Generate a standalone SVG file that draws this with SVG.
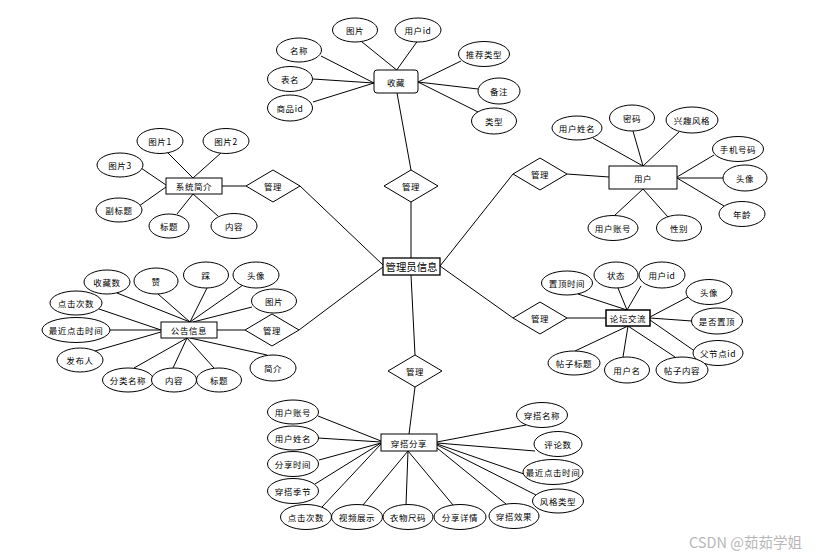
<svg xmlns="http://www.w3.org/2000/svg" width="817" height="559" viewBox="0 0 817 559">
<style>
.c line{stroke:#000;stroke-width:1}
ellipse,rect,polygon{fill:#fff;stroke:#000;stroke-width:1}
text{font-family:"Noto Sans CJK SC","Liberation Sans",sans-serif;font-size:8.5px;fill:#000;text-anchor:middle;dominant-baseline:central;letter-spacing:0.6px}
.big{font-size:10.4px;letter-spacing:0}
.wm{font-size:14.5px;fill:#b8b8b8;text-anchor:start;letter-spacing:0}
</style>
<rect x="0" y="0" width="817" height="559" style="fill:#fff;stroke:none"/>
<g class="c" id="connectors">
<line x1="361.7" y1="41.7" x2="396.7" y2="70"/>
<line x1="417" y1="41.7" x2="396.7" y2="70"/>
<line x1="321" y1="56" x2="374" y2="83"/>
<line x1="313" y1="79" x2="374" y2="83"/>
<line x1="313" y1="102" x2="374" y2="83"/>
<line x1="461" y1="61" x2="418" y2="82"/>
<line x1="478" y1="89" x2="418" y2="82"/>
<line x1="478" y1="112" x2="418" y2="82"/>
<line x1="397" y1="93" x2="411" y2="170"/>
<line x1="411" y1="202" x2="411" y2="258"/>
<line x1="167" y1="152" x2="193" y2="178"/>
<line x1="222" y1="152" x2="193" y2="178"/>
<line x1="141" y1="168" x2="166" y2="185"/>
<line x1="139" y1="206" x2="166" y2="187"/>
<line x1="177" y1="214" x2="193" y2="194"/>
<line x1="218" y1="216" x2="193" y2="194"/>
<line x1="222" y1="186" x2="246" y2="186"/>
<line x1="300" y1="186" x2="383" y2="265"/>
<line x1="593" y1="138" x2="643" y2="166"/>
<line x1="633" y1="131" x2="643" y2="166"/>
<line x1="679" y1="132" x2="643" y2="166"/>
<line x1="714" y1="155" x2="677" y2="177"/>
<line x1="723" y1="178" x2="677" y2="178"/>
<line x1="724" y1="206" x2="677" y2="178"/>
<line x1="614" y1="216" x2="643" y2="189"/>
<line x1="668" y1="217" x2="643" y2="189"/>
<line x1="567" y1="174" x2="609" y2="177"/>
<line x1="513" y1="174" x2="440" y2="266"/>
<line x1="117" y1="293" x2="190" y2="322"/>
<line x1="158" y1="294" x2="190" y2="322"/>
<line x1="207" y1="288" x2="190" y2="322"/>
<line x1="243" y1="285" x2="190" y2="322"/>
<line x1="252" y1="307" x2="193" y2="322"/>
<line x1="99" y1="309" x2="161" y2="330"/>
<line x1="110" y1="330" x2="161" y2="330"/>
<line x1="95" y1="351" x2="161" y2="332"/>
<line x1="134" y1="368" x2="187" y2="338"/>
<line x1="173" y1="368" x2="187" y2="338"/>
<line x1="214" y1="368" x2="187" y2="338"/>
<line x1="267" y1="355" x2="190" y2="338"/>
<line x1="217" y1="330" x2="245" y2="330"/>
<line x1="299" y1="330" x2="383" y2="267"/>
<line x1="578" y1="294" x2="627" y2="310"/>
<line x1="618" y1="288" x2="627" y2="310"/>
<line x1="641" y1="286" x2="627" y2="310"/>
<line x1="688" y1="297" x2="650" y2="317"/>
<line x1="692" y1="321" x2="650" y2="318"/>
<line x1="696" y1="352" x2="650" y2="320"/>
<line x1="675" y1="357" x2="628" y2="326"/>
<line x1="623" y1="357" x2="628" y2="326"/>
<line x1="575" y1="351" x2="628" y2="326"/>
<line x1="567" y1="318" x2="606" y2="318"/>
<line x1="513" y1="318" x2="440" y2="266"/>
<line x1="411" y1="275" x2="415" y2="355"/>
<line x1="415" y1="387" x2="409" y2="434"/>
<line x1="318" y1="416" x2="381" y2="441"/>
<line x1="318" y1="438" x2="381" y2="442"/>
<line x1="319" y1="460" x2="381" y2="443"/>
<line x1="315" y1="484" x2="381" y2="443"/>
<line x1="322" y1="507" x2="381" y2="444"/>
<line x1="363" y1="505" x2="408" y2="451"/>
<line x1="406" y1="505" x2="408" y2="451"/>
<line x1="453" y1="505" x2="408" y2="451"/>
<line x1="506" y1="504" x2="437" y2="448"/>
<line x1="536" y1="495" x2="437" y2="445"/>
<line x1="524" y1="474" x2="437" y2="444"/>
<line x1="535" y1="451" x2="437" y2="443"/>
<line x1="526" y1="425" x2="437" y2="442"/>
</g>
<g id="admin"><rect x="383" y="258" width="57" height="17" style="stroke-width:1.3"/><text class="big" x="411.5" y="266.5">管理员信息</text></g>
<g id="fav"><rect x="374" y="70" width="44" height="23" rx="3"/><text x="396" y="81.5">收藏</text></g>
<g id="fav-img"><ellipse cx="355" cy="30" rx="22.5" ry="12"/><text x="355" y="30">图片</text></g>
<g id="fav-uid"><ellipse cx="418" cy="30" rx="23" ry="12"/><text x="418" y="30">用户id</text></g>
<g id="fav-name"><ellipse cx="299" cy="50" rx="22.5" ry="12"/><text x="299" y="50">名称</text></g>
<g id="fav-table"><ellipse cx="290" cy="79" rx="22.5" ry="12.5"/><text x="290" y="79">表名</text></g>
<g id="fav-gid"><ellipse cx="290" cy="108" rx="22.5" ry="13"/><text x="290" y="108">商品id</text></g>
<g id="fav-rec"><ellipse cx="484" cy="54" rx="25.5" ry="12.5"/><text x="484" y="54">推荐类型</text></g>
<g id="fav-note"><ellipse cx="499" cy="91" rx="21" ry="13"/><text x="499" y="91">备注</text></g>
<g id="fav-type"><ellipse cx="494" cy="121" rx="22.5" ry="13"/><text x="494" y="121">类型</text></g>
<g id="d-fav"><polygon points="411,170 438,186 411,202 384,186"/><text x="411" y="186">管理</text></g>
<g id="sys"><rect x="166" y="178" width="56" height="16"/><text x="194" y="186">系统简介</text></g>
<g id="sys-p1"><ellipse cx="160" cy="141" rx="23" ry="12.5"/><text x="160" y="141">图片1</text></g>
<g id="sys-p2"><ellipse cx="226" cy="141" rx="23" ry="12.5"/><text x="226" y="141">图片2</text></g>
<g id="sys-p3"><ellipse cx="120" cy="165" rx="23" ry="12"/><text x="120" y="165">图片3</text></g>
<g id="sys-sub"><ellipse cx="119" cy="210" rx="23" ry="12"/><text x="119" y="210">副标题</text></g>
<g id="sys-title"><ellipse cx="169" cy="226" rx="20" ry="12"/><text x="169" y="226">标题</text></g>
<g id="sys-content"><ellipse cx="234" cy="226" rx="23" ry="12.5"/><text x="234" y="226">内容</text></g>
<g id="d-sys"><polygon points="273,170 300,186 273,202 246,186"/><text x="273" y="186">管理</text></g>
<g id="user"><rect x="609" y="166" width="68" height="23"/><text x="643" y="177.5">用户</text></g>
<g id="u-name"><ellipse cx="577" cy="128" rx="25" ry="12"/><text x="577" y="128">用户姓名</text></g>
<g id="u-pwd"><ellipse cx="632" cy="118" rx="22.5" ry="13"/><text x="632" y="118">密码</text></g>
<g id="u-style"><ellipse cx="692" cy="120" rx="26" ry="13"/><text x="692" y="120">兴趣风格</text></g>
<g id="u-phone"><ellipse cx="738" cy="149" rx="25.5" ry="12.5"/><text x="738" y="149">手机号码</text></g>
<g id="u-avatar"><ellipse cx="745" cy="178" rx="22" ry="13"/><text x="745" y="178">头像</text></g>
<g id="u-age"><ellipse cx="742" cy="214" rx="23" ry="12.5"/><text x="742" y="214">年龄</text></g>
<g id="u-acc"><ellipse cx="613" cy="228" rx="25" ry="12.5"/><text x="613" y="228">用户账号</text></g>
<g id="u-sex"><ellipse cx="679" cy="228" rx="22.5" ry="13"/><text x="679" y="228">性别</text></g>
<g id="d-user"><polygon points="540,158 567,174 540,190 513,174"/><text x="540" y="174">管理</text></g>
<g id="notice"><rect x="161" y="322" width="56" height="16"/><text x="189" y="330">公告信息</text></g>
<g id="n-fav"><ellipse cx="107" cy="282" rx="23" ry="12"/><text x="107" y="282">收藏数</text></g>
<g id="n-like"><ellipse cx="156" cy="281" rx="22" ry="13"/><text x="156" y="281">赞</text></g>
<g id="n-dislike"><ellipse cx="206" cy="275" rx="22.5" ry="13"/><text x="206" y="275">踩</text></g>
<g id="n-avatar"><ellipse cx="256" cy="275" rx="23" ry="13"/><text x="256" y="275">头像</text></g>
<g id="n-img"><ellipse cx="274" cy="301" rx="22.5" ry="12"/><text x="274" y="301">图片</text></g>
<g id="n-clicks"><ellipse cx="76" cy="303" rx="26" ry="12"/><text x="76" y="303">点击次数</text></g>
<g id="n-last"><ellipse cx="76" cy="330" rx="34" ry="12.5"/><text x="76" y="330">最近点击时间</text></g>
<g id="n-pub"><ellipse cx="80" cy="360" rx="23" ry="12"/><text x="80" y="360">发布人</text></g>
<g id="n-cat"><ellipse cx="128" cy="380" rx="25.5" ry="12"/><text x="128" y="380">分类名称</text></g>
<g id="n-content"><ellipse cx="174" cy="380" rx="22.5" ry="12"/><text x="174" y="380">内容</text></g>
<g id="n-title"><ellipse cx="219" cy="380" rx="22.5" ry="12"/><text x="219" y="380">标题</text></g>
<g id="n-intro"><ellipse cx="273" cy="368" rx="23" ry="13"/><text x="273" y="368">简介</text></g>
<g id="d-notice"><polygon points="272,314 299,330 272,346 245,330"/><text x="272" y="330">管理</text></g>
<g id="forum"><rect x="606" y="310" width="44" height="16" style="stroke-width:1.5"/><text x="628" y="318">论坛交流</text></g>
<g id="f-top"><ellipse cx="567" cy="283" rx="25.5" ry="12"/><text x="567" y="283">置顶时间</text></g>
<g id="f-state"><ellipse cx="616" cy="275" rx="22" ry="13"/><text x="616" y="275">状态</text></g>
<g id="f-uid"><ellipse cx="662" cy="275" rx="23" ry="13"/><text x="662" y="275">用户id</text></g>
<g id="f-avatar"><ellipse cx="709" cy="292" rx="23" ry="12.5"/><text x="709" y="292">头像</text></g>
<g id="f-istop"><ellipse cx="717" cy="321" rx="25.5" ry="13"/><text x="717" y="321">是否置顶</text></g>
<g id="f-parent"><ellipse cx="718" cy="353" rx="25" ry="12.5"/><text x="718" y="353">父节点id</text></g>
<g id="f-content"><ellipse cx="682" cy="370" rx="26" ry="13"/><text x="682" y="370">帖子内容</text></g>
<g id="f-user"><ellipse cx="627" cy="370" rx="22.5" ry="13"/><text x="627" y="370">用户名</text></g>
<g id="f-title"><ellipse cx="574" cy="363" rx="26" ry="12"/><text x="574" y="363">帖子标题</text></g>
<g id="d-forum"><polygon points="540,302 567,318 540,334 513,318"/><text x="540" y="318">管理</text></g>
<g id="d-share"><polygon points="415,355 442,371 415,387 388,371"/><text x="415" y="371">管理</text></g>
<g id="share"><rect x="381" y="434" width="56" height="17"/><text x="409" y="442.5">穿搭分享</text></g>
<g id="s-acc"><ellipse cx="293" cy="412" rx="25.5" ry="12"/><text x="293" y="412">用户账号</text></g>
<g id="s-name"><ellipse cx="293" cy="438" rx="25.5" ry="12"/><text x="293" y="438">用户姓名</text></g>
<g id="s-time"><ellipse cx="293" cy="464" rx="25.5" ry="12.5"/><text x="293" y="464">分享时间</text></g>
<g id="s-season"><ellipse cx="293" cy="491" rx="25.5" ry="12.5"/><text x="293" y="491">穿搭季节</text></g>
<g id="s-clicks"><ellipse cx="306" cy="517" rx="25.5" ry="12.5"/><text x="306" y="517">点击次数</text></g>
<g id="s-video"><ellipse cx="357" cy="517" rx="25.5" ry="12.5"/><text x="357" y="517">视频展示</text></g>
<g id="s-size"><ellipse cx="408" cy="517" rx="25" ry="12.5"/><text x="408" y="517">衣物尺码</text></g>
<g id="s-detail"><ellipse cx="460" cy="517" rx="26" ry="12.5"/><text x="460" y="517">分享详情</text></g>
<g id="s-effect"><ellipse cx="514" cy="516" rx="25" ry="12.5"/><text x="514" y="516">穿搭效果</text></g>
<g id="s-style"><ellipse cx="558" cy="501" rx="25.5" ry="12"/><text x="558" y="501">风格类型</text></g>
<g id="s-last"><ellipse cx="553" cy="472" rx="30" ry="12.5"/><text x="553" y="472">最近点击时间</text></g>
<g id="s-comments"><ellipse cx="558" cy="444" rx="24" ry="12.5"/><text x="558" y="444">评论数</text></g>
<g id="s-title"><ellipse cx="542" cy="415" rx="25.5" ry="12.5"/><text x="542" y="415">穿搭名称</text></g>
<text class="wm" x="689" y="541">CSDN @茹茹学姐</text>
</svg>
